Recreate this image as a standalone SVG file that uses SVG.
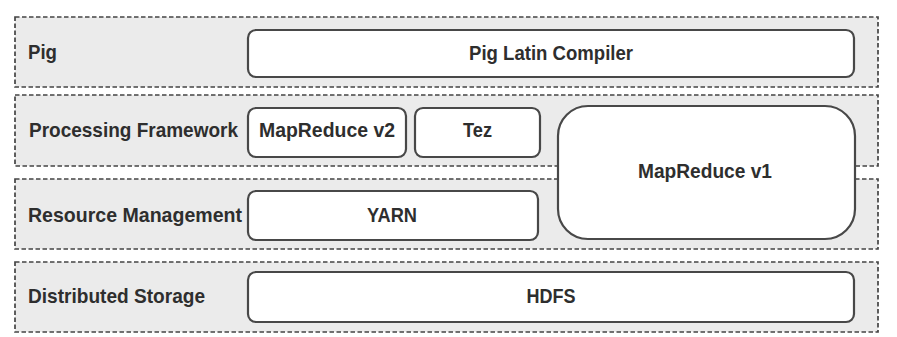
<svg xmlns="http://www.w3.org/2000/svg" width="897" height="337" viewBox="0 0 897 337">
<style>
.layer{fill:#ebebeb;stroke:#444;stroke-width:1.7;stroke-dasharray:4.5 2.5}
.box{fill:#fff;stroke:#484848;stroke-width:2.2}
.t{font-family:"Liberation Sans",Arial,sans-serif;font-weight:bold;font-size:21px;fill:#2e2e2e}
.c{text-anchor:middle}
</style>
<rect width="897" height="337" fill="#fff"/>
<g id="layer-pig">
<rect class="layer" x="15" y="17" width="863" height="70"/>
<text class="t" x="28" y="59" textLength="29" lengthAdjust="spacingAndGlyphs">Pig</text>
</g>
<g id="layer-processing">
<rect class="layer" x="15" y="95" width="863" height="71"/>
<text class="t" x="29" y="137" textLength="209" lengthAdjust="spacingAndGlyphs">Processing Framework</text>
</g>
<g id="layer-resource">
<rect class="layer" x="15" y="179" width="863" height="70"/>
<text class="t" x="28" y="222" textLength="214" lengthAdjust="spacingAndGlyphs">Resource Management</text>
</g>
<g id="layer-storage">
<rect class="layer" x="15" y="262" width="863" height="70"/>
<text class="t" x="28" y="303" textLength="177" lengthAdjust="spacingAndGlyphs">Distributed Storage</text>
</g>
<g id="pig-latin-compiler">
<rect class="box" x="248" y="30" width="606" height="47" rx="8"/>
<text class="t c" x="551" y="60" textLength="164" lengthAdjust="spacingAndGlyphs">Pig Latin Compiler</text>
</g>
<g id="mapreduce-v2">
<rect class="box" x="248" y="108" width="158" height="49" rx="8"/>
<text class="t c" x="327" y="137" textLength="136" lengthAdjust="spacingAndGlyphs">MapReduce v2</text>
</g>
<g id="tez">
<rect class="box" x="415" y="108" width="125" height="49" rx="8"/>
<text class="t c" x="477.5" y="137" textLength="29" lengthAdjust="spacingAndGlyphs">Tez</text>
</g>
<g id="mapreduce-v1">
<rect class="box" x="558" y="106" width="297" height="133" rx="30"/>
<text class="t c" x="705" y="178" textLength="134" lengthAdjust="spacingAndGlyphs">MapReduce v1</text>
</g>
<g id="yarn">
<rect class="box" x="248" y="191" width="290" height="49" rx="8"/>
<text class="t c" x="392" y="222" textLength="50" lengthAdjust="spacingAndGlyphs">YARN</text>
</g>
<g id="hdfs">
<rect class="box" x="248" y="272" width="606" height="50" rx="8"/>
<text class="t c" x="551" y="303" textLength="49" lengthAdjust="spacingAndGlyphs">HDFS</text>
</g>
<g id="connectors"></g>
</svg>
